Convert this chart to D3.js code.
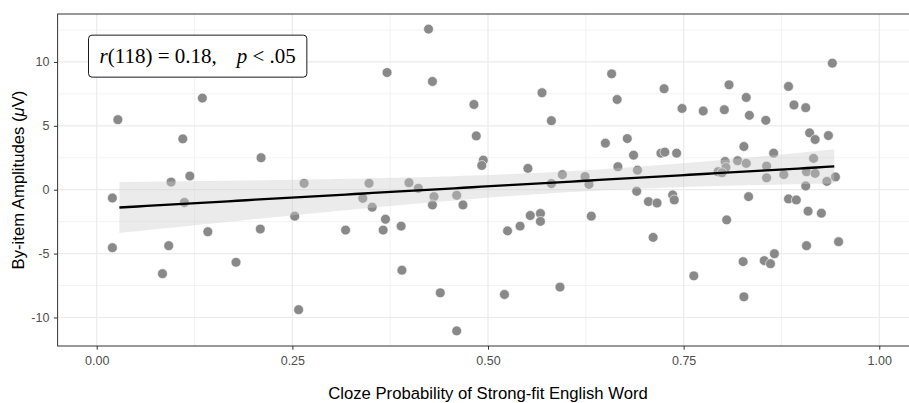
<!DOCTYPE html>
<html>
<head>
<meta charset="utf-8">
<script src="https://cdn.jsdelivr.net/npm/d3@7"></script>
<style>
  body { margin: 0; background: #fff; }
  text { font-family: "Liberation Sans", Arial, Helvetica, sans-serif; }
</style>
</head>
<body>
<div id="graph"></div>
<script>

// cloze probability (x) and by-item amplitude (y)
let clozeProb = [0.027,0.135,0.110,0.210,0.119,0.095,0.020,0.112,0.020,0.092,0.084,0.142,0.178,0.209,0.253,0.258,
  0.424,0.371,0.429,0.482,0.485,0.494,0.492,0.265,0.348,0.399,0.411,0.431,0.460,0.429,0.468,0.340,0.352,0.318,0.369,0.366,0.389,0.525,0.390,0.439,0.521,0.460,
  0.569,0.581,0.551,0.595,0.581,0.624,0.629,0.658,0.665,0.725,0.748,0.775,0.650,0.678,0.686,0.721,0.726,0.741,0.666,0.691,0.690,0.705,0.716,0.736,0.738,0.541,0.554,0.567,0.567,0.632,0.711,0.592,0.763,
  0.940,0.808,0.884,0.830,0.802,0.891,0.906,0.834,0.855,0.911,0.918,0.935,0.827,0.865,0.803,0.819,0.830,0.804,0.794,0.799,0.856,0.916,0.907,0.918,0.856,0.878,0.944,0.933,0.906,0.833,0.884,0.894,0.909,0.926,0.805,0.907,0.948,0.866,0.853,0.861,0.826,0.827];

let amplitude = [5.48,7.17,3.98,2.50,1.07,0.60,-0.65,-1.00,-4.54,-4.38,-6.57,-3.29,-5.68,-3.08,-2.07,-9.39,
  12.57,9.17,8.47,6.67,4.21,2.31,1.90,0.50,0.50,0.55,0.11,-0.54,-0.44,-1.19,-1.19,-0.67,-1.37,-3.16,-2.31,-3.16,-2.85,-3.22,-6.30,-8.07,-8.20,-11.05,
  7.59,5.40,1.67,1.18,0.48,1.03,0.42,9.07,7.06,7.90,6.36,6.16,3.64,4.00,2.70,2.86,2.94,2.86,1.80,1.53,-0.12,-0.93,-1.04,-0.41,-0.80,-2.85,-2.02,-1.86,-2.48,-2.07,-3.73,-7.62,-6.74,
  9.90,8.21,8.08,7.22,6.26,6.63,6.42,5.82,5.43,4.45,3.93,4.24,3.38,2.86,2.21,2.27,2.06,1.74,1.41,1.33,1.85,2.45,1.41,1.28,0.93,1.18,1.00,0.65,0.29,-0.54,-0.72,-0.80,-1.68,-1.84,-2.36,-4.38,-4.07,-5.01,-5.55,-5.79,-5.63,-8.38];

// x span the fitted line covers in the picture
let fitRange = [0.029, 0.9425];

let xTicks = [0, 0.25, 0.5, 0.75, 1];
let xTickLabels = ["0.00", "0.25", "0.50", "0.75", "1.00"];
let yTicks = [-10, -5, 0, 5, 10];
let yTickLabels = ["-10", "-5", "0", "5", "10"];

// annotation anchor (data units)
let labelPos = [0.129, 10.48];

var svgWidth = 909;
var svgHeight = 403;

var margin = { top: 14, right: -9.4, bottom: 57, left: 57.6 };
var chartWidth = svgWidth - margin.left - margin.right;
var chartHeight = svgHeight - margin.top - margin.bottom;

var svg = d3.select("#graph")
  .append("svg")
  .attr("width", svgWidth)
  .attr("height", svgHeight);

var chartGroup = svg.append("g")
  .attr("transform", `translate(${margin.left}, ${margin.top})`);

var points = clozeProb.map((x, i) => ({ x: x, y: amplitude[i] }));

// x limits 0..1 with 5% expansion, y from the data with 5% expansion
var xScale = d3.scaleLinear()
  .domain([-0.05, 1.05])
  .range([0, chartWidth]);

var yExt = d3.extent(amplitude);
var yPad = (yExt[1] - yExt[0]) * 0.05;
var yScale = d3.scaleLinear()
  .domain([yExt[0] - yPad, yExt[1] + yPad])
  .range([chartHeight, 0]);

// grid lines
chartGroup.append("clipPath").attr("id", "panel")
  .append("rect").attr("width", chartWidth).attr("height", chartHeight);

var grid = chartGroup.append("g").attr("clip-path", "url(#panel)");
var xMinor = xTicks.slice(0, -1).map((t, i) => (t + xTicks[i + 1]) / 2);
var yMinor = [-12.5].concat(yTicks.map(t => t + 2.5));

grid.selectAll(".xminor").data(xMinor).enter().append("line")
  .attr("x1", d => xScale(d)).attr("x2", d => xScale(d))
  .attr("y1", 0).attr("y2", chartHeight)
  .attr("stroke", "#ebebeb").attr("stroke-width", 0.6);
grid.selectAll(".yminor").data(yMinor).enter().append("line")
  .attr("y1", d => yScale(d)).attr("y2", d => yScale(d))
  .attr("x1", 0).attr("x2", chartWidth)
  .attr("stroke", "#ebebeb").attr("stroke-width", 0.6);
grid.selectAll(".xmajor").data(xTicks).enter().append("line")
  .attr("x1", d => xScale(d)).attr("x2", d => xScale(d))
  .attr("y1", 0).attr("y2", chartHeight)
  .attr("stroke", "#ebebeb").attr("stroke-width", 1.2);
grid.selectAll(".ymajor").data(yTicks).enter().append("line")
  .attr("y1", d => yScale(d)).attr("y2", d => yScale(d))
  .attr("x1", 0).attr("x2", chartWidth)
  .attr("stroke", "#ebebeb").attr("stroke-width", 1.2);

// scatter points
chartGroup.append("g").selectAll("circle")
  .data(points)
  .enter().append("circle")
  .attr("cx", d => xScale(d.x))
  .attr("cy", d => yScale(d.y))
  .attr("r", 4.9)
  .attr("fill", "#898989")
  .attr("stroke", "#fff")
  .attr("stroke-width", 0.6);

// linear fit + 95% confidence band (same as lm smooth)
var n = points.length;
var xbar = d3.mean(points, d => d.x);
var ybar = d3.mean(points, d => d.y);
var sxx = d3.sum(points, d => (d.x - xbar) * (d.x - xbar));
var sxy = d3.sum(points, d => (d.x - xbar) * (d.y - ybar));
var slope = sxy / sxx;
var intercept = ybar - slope * xbar;
var sse = d3.sum(points, d => Math.pow(d.y - (intercept + slope * d.x), 2));
var s = Math.sqrt(sse / (n - 2));
var tCrit = 1.981;

var fitData = d3.range(80).map(i => {
  var x = fitRange[0] + (fitRange[1] - fitRange[0]) * i / 79;
  var yhat = intercept + slope * x;
  var se = s * Math.sqrt(1 / n + (x - xbar) * (x - xbar) / sxx);
  return { x: x, y: yhat, lo: yhat - tCrit * se, hi: yhat + tCrit * se };
});

var drawBand = d3.area()
  .x(d => xScale(d.x))
  .y0(d => yScale(d.lo))
  .y1(d => yScale(d.hi));

chartGroup.append("path")
  .attr("d", drawBand(fitData))
  .attr("fill", "#cccccc")
  .attr("fill-opacity", 0.4);

var drawLine = d3.line()
  .x(d => xScale(d.x))
  .y(d => yScale(d.y));

chartGroup.append("path")
  .attr("d", drawLine(fitData))
  .attr("fill", "none")
  .attr("stroke", "#000")
  .attr("stroke-width", 2.3);

// correlation label
var label = chartGroup.append("g");
var labelText = label.append("text")
  .attr("x", xScale(labelPos[0]))
  .attr("y", yScale(labelPos[1]))
  .attr("dy", "0.35em")
  .attr("text-anchor", "middle")
  .style("font-family", "'Liberation Serif', 'Times New Roman', serif")
  .style("font-size", "21px")
  .attr("fill", "#000");
labelText.append("tspan").style("font-style", "italic").text("r");
labelText.append("tspan").text("(118) = 0.18,");
labelText.append("tspan").attr("dx", 20).style("font-style", "italic").text("p");
labelText.append("tspan").text(" < .05");

var bb = labelText.node().getBBox();
label.insert("rect", "text")
  .attr("x", bb.x - 11)
  .attr("y", bb.y - 9)
  .attr("width", bb.width + 22)
  .attr("height", bb.height + 18)
  .attr("rx", 3.5)
  .attr("fill", "#fff")
  .attr("stroke", "#000")
  .attr("stroke-width", 0.9);

// panel border
chartGroup.append("rect")
  .attr("width", chartWidth)
  .attr("height", chartHeight)
  .attr("fill", "none")
  .attr("stroke", "#333")
  .attr("stroke-width", 1);

// axes
var bottomAxis = d3.axisBottom(xScale)
  .tickValues(xTicks)
  .tickFormat((d, i) => xTickLabels[i])
  .tickSize(3.7)
  .tickPadding(6);

var leftAxis = d3.axisLeft(yScale)
  .tickValues(yTicks)
  .tickFormat((d, i) => yTickLabels[i])
  .tickSize(3.7)
  .tickPadding(4.5);

var gx = chartGroup.append("g")
  .attr("transform", `translate(0, ${chartHeight})`)
  .call(bottomAxis);
var gy = chartGroup.append("g")
  .call(leftAxis);

[gx, gy].forEach(g => {
  g.select(".domain").remove();
  g.selectAll(".tick line").attr("stroke", "#333");
  g.selectAll(".tick text")
    .attr("fill", "#4d4d4d")
    .style("font-size", "12.5px")
    .style("font-family", "'Liberation Sans', Arial, sans-serif");
});

// axis titles (pulled up a little so the descenders stay inside)
svg.append("text")
  .attr("x", margin.left + xScale(0.5))
  .attr("y", 398.5)
  .attr("text-anchor", "middle")
  .style("font-size", "16.7px")
  .attr("fill", "#000")
  .text("Cloze Probability of Strong-fit English Word");

var yTitle = svg.append("text")
  .attr("transform", `translate(24, ${margin.top + chartHeight / 2}) rotate(-90)`)
  .attr("text-anchor", "middle")
  .style("font-size", "16.7px")
  .attr("fill", "#000");
yTitle.append("tspan").text("By-item Amplitudes (");
yTitle.append("tspan").style("font-style", "italic").text("\u03bc");
yTitle.append("tspan").text("V)");

</script>
</body>
</html>
